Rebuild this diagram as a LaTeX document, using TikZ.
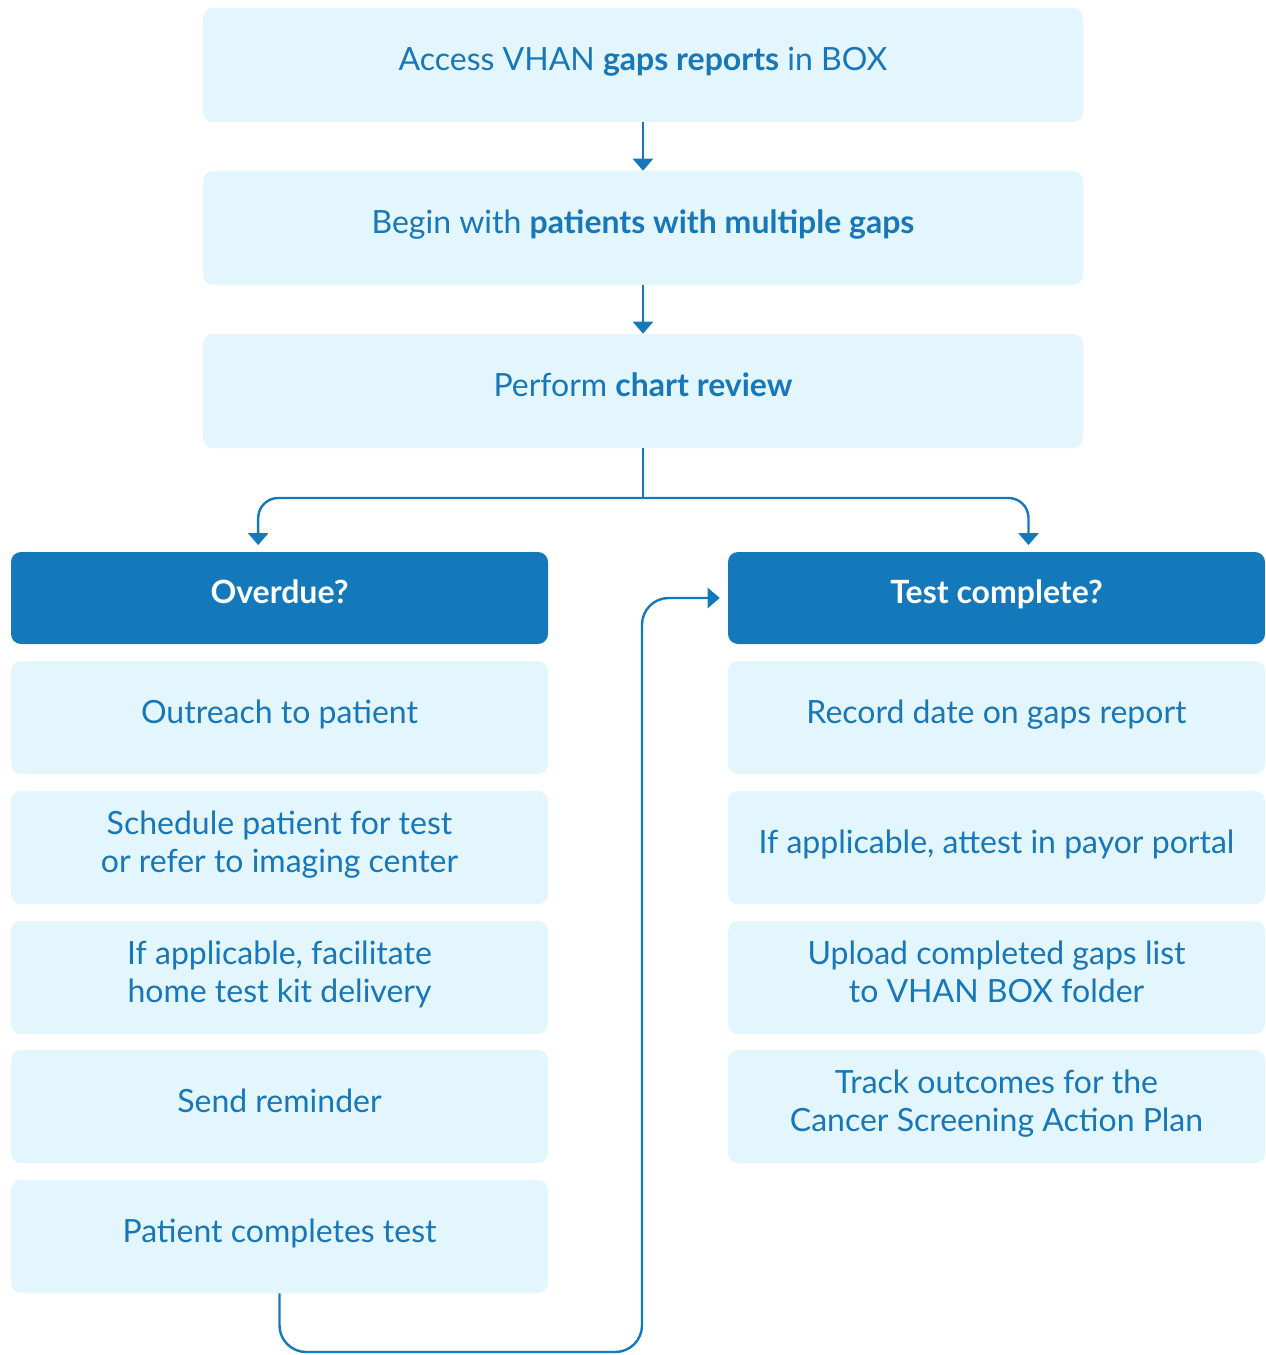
\documentclass[tikz,border=0pt]{standalone}
\usepackage{fontspec}
\setmainfont{Lato}
\usetikzlibrary{arrows.meta}
\definecolor{dblue}{HTML}{1479BB}
\definecolor{lblue}{HTML}{E3F5FD}
\definecolor{tblue}{HTML}{1777B8}
\begin{document}
\begin{tikzpicture}[x=0.75pt,y=-0.75pt,
  base/.style={rounded corners=7.5pt,align=center,inner sep=0pt,text depth=9pt,font=\fontsize{24}{28.5}\selectfont},
  wide/.style={base,fill=lblue,minimum width=660pt,minimum height=85.5pt,text=tblue},
  side/.style={base,fill=lblue,minimum width=402.75pt,minimum height=84.75pt,text=tblue},
  head/.style={base,fill=dblue,minimum width=402.75pt,minimum height=69pt,text=white,font=\fontsize{24}{28.5}\selectfont\bfseries},
  conn/.style={draw=dblue,line width=1.8pt},
  arr/.style={conn,-{Triangle[width=15pt,length=9pt]}}]
\useasboundingbox (0,0) rectangle (1265,1355);
\node[wide] (b1) at (643,65) {Access VHAN \textbf{gaps reports} in BOX};
\node[wide] (b2) at (643,228) {Begin with \textbf{patients with multiple gaps}};
\node[wide] (b3) at (643,391) {Perform \textbf{chart review}};
\node[head] (hL) at (279.5,598) {Overdue?};
\node[head] (hR) at (996.5,598) {Test complete?};
\node[side] (L1) at (279.5,717.5) {Outreach to patient};
\node[side] (L2) at (279.5,847.5) {Schedule patient for test\\or refer to imaging center};
\node[side] (L3) at (279.5,977.5) {If applicable, facilitate\\home test kit delivery};
\node[side] (L4) at (279.5,1106.5) {Send reminder};
\node[side] (L5) at (279.5,1236.5) {Patient completes test};
\node[side] (R1) at (996.5,717.5) {Record date on gaps report};
\node[side] (R2) at (996.5,847.5) {If applicable, attest in payor portal};
\node[side] (R3) at (996.5,977.5) {Upload completed gaps list\\to VHAN BOX folder};
\node[side] (R4) at (996.5,1106.5) {Track outcomes for the\\Cancer Screening Action Plan};
\coordinate (jn) at (643,498);
\coordinate (lb) at (642,1352);
\coordinate (lt) at (642,598);
\draw[arr] (b1.south) -- (b2.north);
\draw[arr] (b2.south) -- (b3.north);
\draw[conn] (b3.south) -- (jn);
\draw[arr,rounded corners=15pt,shorten >=5pt] (jn) -| ([xshift=-16pt]hL.north);
\draw[arr,rounded corners=15pt,shorten >=5pt] (jn) -| ([xshift=24pt]hR.north);
\draw[arr,rounded corners=20pt,shorten >=6pt] (L5.south) |- (lb) -- (lt) -- (lt -| hR.west);
\end{tikzpicture}
\end{document}
